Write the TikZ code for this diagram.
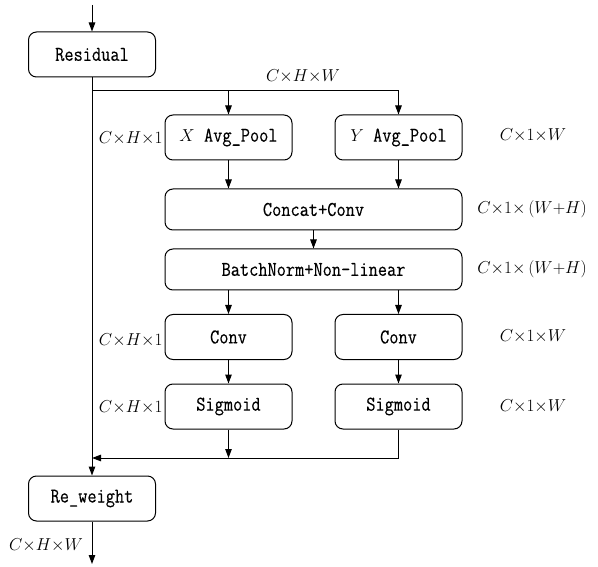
\documentclass[tikz,border=0pt]{standalone}
\usepackage{fontspec}
\usepackage{tikz}
\usetikzlibrary{arrows.meta,positioning,calc}
\newfontfamily\boxfont{Latin Modern Mono}[FakeStretch=0.85,FakeBold=0.3]

\begin{document}
\begin{tikzpicture}[x=1pt,y=-1pt,line width=1pt,
  >={Triangle[length=9pt,width=6.5pt]},
  blk/.style={draw,rounded corners=8pt,minimum width=127pt,minimum height=45pt,
    inner sep=0pt,font=\fontsize{21}{24}\selectfont\boxfont},
  wide/.style={blk,minimum width=297pt,minimum height=41pt},
  dim/.style={inner sep=0pt,font=\fontsize{17.28}{21}\selectfont}]
  \useasboundingbox (0,0) rectangle (598,567);
  % Blocks
  \node[blk] (res) at (92,54.5) {Residual};
  \node[blk] (xpool) at (228.5,137.5) {{\fontsize{17.28}{21}\selectfont$X$} Avg\_Pool};
  \node[blk] (ypool) at (398.5,137.5) {{\fontsize{17.28}{21}\selectfont$Y$} Avg\_Pool};
  \node[wide] (cat) at (313.5,209.5) {Concat+Conv};
  \node[wide] (bn) at (313.5,269.5) {BatchNorm+Non-linear};
  \node[blk] (xconv) at (228.5,337) {Conv};
  \node[blk] (yconv) at (398.5,337) {Conv};
  \node[blk] (xsig) at (228.5,406.5) {Sigmoid};
  \node[blk] (ysig) at (398.5,406.5) {Sigmoid};
  \node[blk] (rew) at (92,498.5) {Re\_weight};
  % Junctions
  \coordinate (in) at (92,5);
  \coordinate (split) at (92,91);
  \coordinate (join) at (92,458);
  \coordinate (out) at (92,564);
  % Connectors
  \draw[->] (in) -- (res);
  \draw (res) -- (join);
  \draw[->] (split) -| (ypool);
  \draw[->] (split -| xpool) -- (xpool);
  \draw[->] (xpool) -- (xpool |- cat.north);
  \draw[->] (ypool) -- (ypool |- cat.north);
  \draw[->] (cat) -- (bn);
  \draw[->] (bn.south -| xconv) -- (xconv);
  \draw[->] (bn.south -| yconv) -- (yconv);
  \draw[->] (xconv) -- (xsig);
  \draw[->] (yconv) -- (ysig);
  \draw[->] (xsig) -- (xsig |- join);
  \draw[->] (ysig) |- (join);
  \draw[->] (join) -- (rew);
  \draw[->] (rew) -- (out);
  % Sizes
  \node[dim] (lsplit) at (303,76) {$C{\times}H{\times}W$};
  \node[dim,anchor=east] (lxpool) at (163,138) {$C{\times}H{\times}1$};
  \node[dim] (rypool) at (533,135) {$C{\times}1{\times}W$};
  \node[dim] (rcat) at (532,209) {$C{\times}1{\times}\,(W{+}H)$};
  \node[dim] (rbn) at (532,269) {$C{\times}1{\times}\,(W{+}H)$};
  \node[dim,anchor=east] (lxconv) at (163,340) {$C{\times}H{\times}1$};
  \node[dim] (ryconv) at (533,336) {$C{\times}1{\times}W$};
  \node[dim,anchor=east] (lxsig) at (163,407) {$C{\times}H{\times}1$};
  \node[dim] (rysig) at (533,406) {$C{\times}1{\times}W$};
  \node[dim] (lout) at (46,545) {$C{\times}H{\times}W$};
\end{tikzpicture}
\end{document}
